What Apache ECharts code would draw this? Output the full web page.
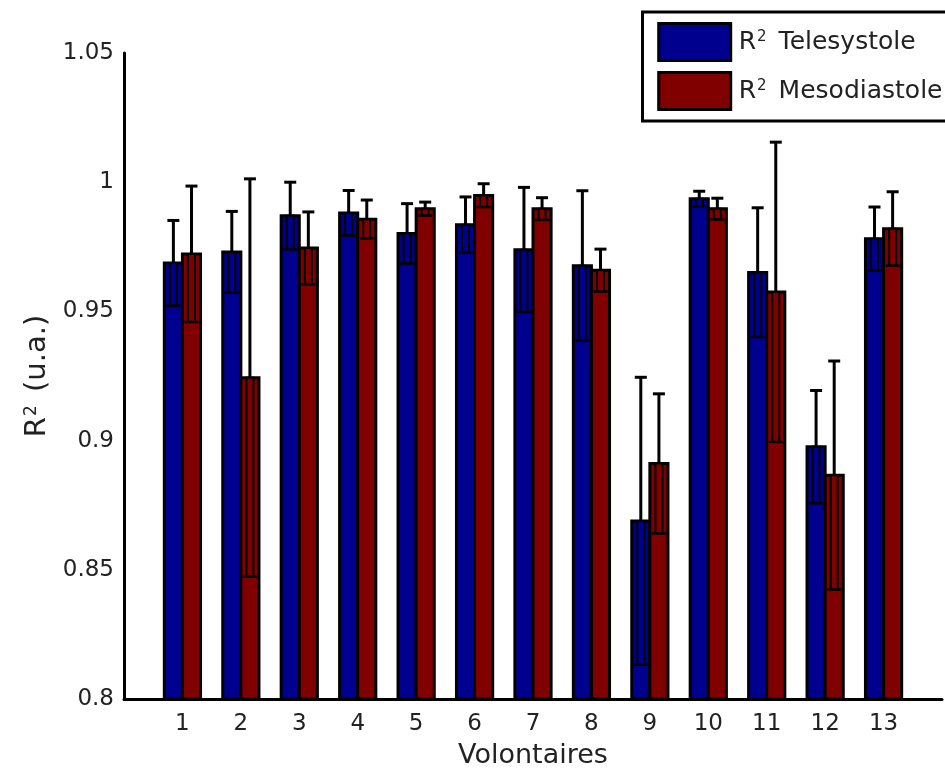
<!DOCTYPE html>
<html>
<head>
<meta charset="utf-8">
<script src="https://cdn.jsdelivr.net/npm/echarts@6/dist/echarts.min.js"></script>
<style>html,body{margin:0;padding:0;background:#fff;}#c{width:945px;height:774px;}</style>
</head>
<body>
<div id="c"></div>
<script>
// ---- data ----
const categories = ['1','2','3','4','5','6','7','8','9','10','11','12','13'];
const xPositions = [1,2,3,4,5,6,7,8,9,10,11,12,13];
const teleMean = [0.9687, 0.9730, 0.9870, 0.9881, 0.9801, 0.9835, 0.9739, 0.9677, 0.8689, 0.9936, 0.9651, 0.8976, 0.9781];
const teleErr  = [0.0165, 0.0157, 0.0130, 0.0087, 0.0116, 0.0108, 0.0241, 0.0290, 0.0556, 0.0029, 0.0250, 0.0218, 0.0123];
const mesoMean = [0.9722, 0.9243, 0.9745, 0.9857, 0.9897, 0.9949, 0.9897, 0.9659, 0.8911, 0.9897, 0.9575, 0.8866, 0.9820];
const mesoErr  = [0.0263, 0.0770, 0.0140, 0.0074, 0.0026, 0.0045, 0.0043, 0.0082, 0.0270, 0.0041, 0.0580, 0.0442, 0.0143];
const seriesNames = ['R2 Telesystole', 'R2 Mesodiastole'];
const yTicks = { min: 0.8, max: 1.05, interval: 0.05 };

const BLUE = '#00008F', RED = '#800000';
const BAR_W = 0.31;
const FONT = 'DejaVu Sans';

function makeRender(side, color) {
  return function (params, api) {
    const x = api.value(0), v = api.value(1), e = api.value(2);
    const w = api.size([BAR_W, 0])[0];
    const c = api.coord([x, v]);
    const base = api.coord([x, yTicks.min]);
    const left = side < 0 ? c[0] - w : c[0];
    const bx = left + w / 2;
    const top = api.coord([x, v + e])[1];
    const bot = api.coord([x, v - e])[1];
    const children = [
      { type: 'rect', shape: { x: left, y: c[1], width: w, height: base[1] - c[1] },
        style: { fill: color, stroke: '#000', lineWidth: 3 } }
    ];
    if (bot > c[1]) {
      children.push({ type: 'rect', shape: { x: bx - 3.5, y: c[1], width: 7, height: bot - c[1] },
        style: { fill: color, stroke: '#000', lineWidth: 2 } });
    }
    children.push({ type: 'line', shape: { x1: bx, y1: top, x2: bx, y2: c[1] },
      style: { stroke: '#000', lineWidth: 3 } });
    children.push({ type: 'line', shape: { x1: bx - 6, y1: top, x2: bx + 6, y2: top },
      style: { stroke: '#000', lineWidth: 3 } });
    children.push({ type: 'line', shape: { x1: bx - 7, y1: bot, x2: bx + 7, y2: bot },
      style: { stroke: '#000', lineWidth: 2.5 } });
    return { type: 'group', children: children };
  };
}

const teleData = xPositions.map((x, i) => [x, teleMean[i], teleErr[i]]);
const mesoData = xPositions.map((x, i) => [x, mesoMean[i], mesoErr[i]]);

const chart = echarts.init(document.getElementById('c'), null, { renderer: 'canvas' });
const supRich = {
  r: { fontFamily: FONT, fontSize: 25, color: '#222' },
  s: { fontFamily: FONT, fontSize: 15, color: '#222', verticalAlign: 'top', padding: [0, 12, 0, 1] }
};
chart.setOption({
  backgroundColor: '#fff',
  animation: false,
  grid: { left: 124, top: 53, width: 822, height: 647 },
  legend: {
    orient: 'vertical', left: 642.5, top: 12,
    padding: [10, 12, 10, 14.7],
    itemWidth: 72, itemHeight: 37, itemGap: 9,
    borderColor: '#000', borderWidth: 3, backgroundColor: '#fff',
    icon: 'rect',
    data: [
      { name: seriesNames[0], itemStyle: { color: BLUE, borderColor: '#000', borderWidth: 3 } },
      { name: seriesNames[1], itemStyle: { color: RED, borderColor: '#000', borderWidth: 3 } }
    ],
    formatter: function (name) {
      const rest = name.replace(/^R2 /, '');
      return '{r|R}{s|2}{r|' + rest + '}';
    },
    textStyle: { fontFamily: FONT, fontSize: 25, color: '#222', padding: [0, 0, 0, 3], rich: supRich }
  },
  xAxis: {
    type: 'value', min: 0, max: 14, interval: 1,
    name: 'Volontaires', nameLocation: 'middle', nameGap: 43,
    nameTextStyle: { fontFamily: FONT, fontSize: 27, color: '#222' },
    axisLine: { lineStyle: { color: '#000', width: 3 } },
    axisTick: { show: false },
    splitLine: { show: false },
    axisLabel: {
      margin: 14, fontFamily: FONT, fontSize: 23, color: '#222',
      formatter: function (v) { return (v >= 1 && v <= categories.length) ? categories[v - 1] : ''; }
    }
  },
  yAxis: {
    type: 'value', min: yTicks.min, max: yTicks.max, interval: yTicks.interval,
    name: '{r|R}{s|2}{r| (u.a.)}', nameLocation: 'middle', nameGap: 72,
    nameTextStyle: {
      fontFamily: FONT, fontSize: 29, color: '#222',
      rich: {
        r: { fontFamily: FONT, fontSize: 29, color: '#222' },
        s: { fontFamily: FONT, fontSize: 17, color: '#222', verticalAlign: 'top', padding: [0, 4, 0, 1] }
      }
    },
    axisLine: { show: true, lineStyle: { color: '#000', width: 3 } },
    axisTick: { show: false },
    splitLine: { show: false },
    axisLabel: {
      margin: 10, fontFamily: FONT, fontSize: 23, color: '#222',
      formatter: function (v) { return String(Math.round(v * 100) / 100); }
    }
  },
  series: [
    { name: seriesNames[0], type: 'custom', renderItem: makeRender(-1, BLUE), data: teleData,
      itemStyle: { color: BLUE }, encode: { x: 0, y: 1 } },
    { name: seriesNames[1], type: 'custom', renderItem: makeRender(1, RED), data: mesoData,
      itemStyle: { color: RED }, encode: { x: 0, y: 1 } }
  ]
});
</script>
</body>
</html>
